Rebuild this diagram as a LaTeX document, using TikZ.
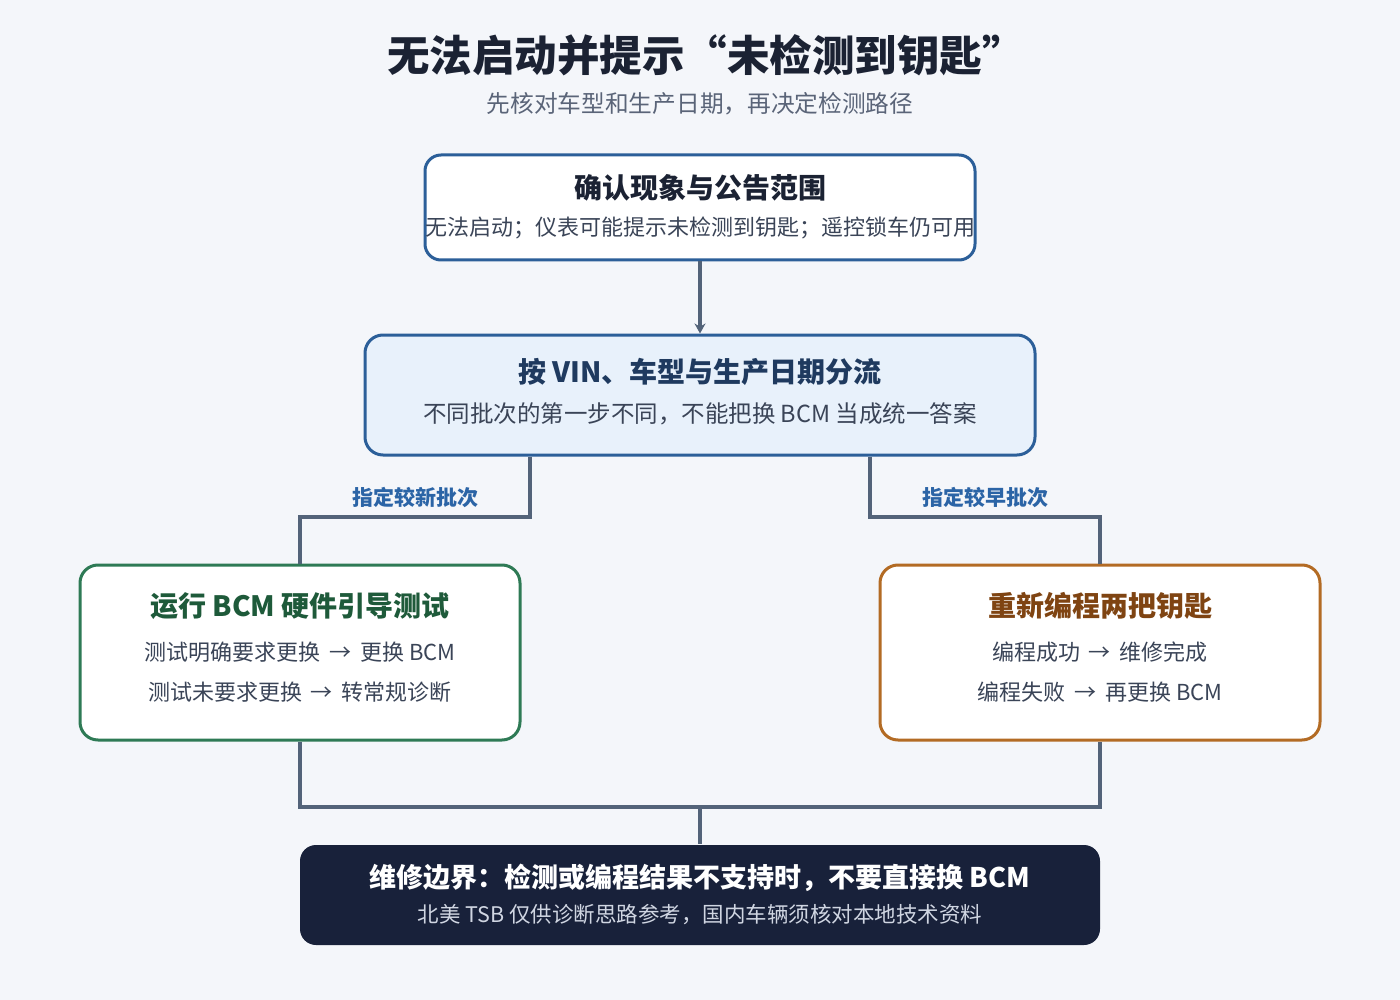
\documentclass[tikz,border=0pt]{standalone}
\usepackage{fontspec}
\setmainfont{Noto Sans CJK SC}
\usetikzlibrary{arrows.meta,calc}
\definecolor{bgc}{HTML}{F4F6FA}
\definecolor{bluebd}{HTML}{2C5F99}
\definecolor{bluefill}{HTML}{E8F1FB}
\definecolor{darktxt}{HTML}{1B2233}
\definecolor{navytxt}{HTML}{1F3A5F}
\definecolor{subtxt}{HTML}{5A6478}
\definecolor{bodytxt}{HTML}{3A4457}
\definecolor{conncol}{HTML}{536379}
\definecolor{lblcol}{HTML}{2B64A6}
\definecolor{greenbd}{HTML}{2E7A55}
\definecolor{greentxt}{HTML}{1E5A3A}
\definecolor{orangebd}{HTML}{B36B24}
\definecolor{browntxt}{HTML}{7F4412}
\definecolor{darkbox}{HTML}{18213A}
\definecolor{lighttxt}{HTML}{D0D6E2}
\newcommand\myarr{\hspace{4pt}→\hspace{4pt}}
\tikzset{
  box/.style={draw, rectangle, rounded corners=16pt, line width=3pt, fill=white, inner sep=0pt},
  conn/.style={draw=conncol, line width=4pt},
  ttl/.style={font=\fontsize{28}{32}\selectfont\bfseries, inner sep=0pt},
  body/.style={font=\fontsize{22}{26}\selectfont, text=bodytxt, inner sep=0pt},
  lbl/.style={font=\fontsize{21}{24}\selectfont\bfseries, text=lblcol, inner sep=0pt},
}
\begin{document}
\begin{tikzpicture}[x=1pt,y=-1pt]
\fill[bgc] (0,0) rectangle (1400,1000);
\useasboundingbox (0,0) rectangle (1400,1000);

\node[font=\fontsize{42.5}{48}\selectfont\bfseries, text=darktxt, inner sep=0pt] (title) at (706,55) {无法启动并提示“未检测到钥匙”};
\node[font=\fontsize{23.7}{28}\selectfont, text=subtxt, inner sep=0pt] (subtitle) at (700,104) {先核对车型和生产日期，再决定检测路径};

% boxes
\node[box, draw=bluebd, minimum width=550pt, minimum height=105pt] (b1) at (700,207.5) {};
\node[box, draw=bluebd, fill=bluefill, minimum width=670pt, minimum height=120pt, rounded corners=18pt] (b2) at (700,395) {};
\node[box, draw=greenbd, minimum width=440pt, minimum height=175pt, rounded corners=18pt] (b3) at (300,652.5) {};
\node[box, draw=orangebd, minimum width=440pt, minimum height=175pt, rounded corners=18pt] (b4) at (1100,652.5) {};
\node[box, draw=none, fill=darkbox, minimum width=800pt, minimum height=100pt] (b5) at (700,895) {};

% texts
\node[ttl, text=darktxt] (t1) at (700,188) {确认现象与公告范围};
\node[body] (s1) at (700,228) {无法启动；仪表可能提示未检测到钥匙；遥控锁车仍可用};

\node[ttl, text=navytxt] (t2) at (700,372) {按 VIN、车型与生产日期分流};
\node[body, font=\fontsize{23.5}{27}\selectfont] (s2) at (700,414) {不同批次的第一步不同，不能把换 BCM 当成统一答案};

\node[ttl, text=greentxt] (t3) at (300,606) {运行 BCM 硬件引导测试};
\node[body] (s3a) at (300,652) {测试明确要求更换 \myarr{} 更换 BCM};
\node[body] (s3b) at (300,692) {测试未要求更换 \myarr{} 转常规诊断};

\node[ttl, text=browntxt] (t4) at (1100,606) {重新编程两把钥匙};
\node[body] (s4a) at (1100,652) {编程成功 \myarr{} 维修完成};
\node[body] (s4b) at (1100,692) {编程失败 \myarr{} 再更换 BCM};

\node[ttl, text=white, font=\fontsize{27}{31}\selectfont\bfseries] (t5) at (700,878) {维修边界：检测或编程结果不支持时，不要直接换 BCM};
\node[body, text=lighttxt, font=\fontsize{21.5}{25}\selectfont] (s5) at (700,915) {北美 TSB 仅供诊断思路参考，国内车辆须核对本地技术资料};

% connectors
\draw[conn, -{Stealth[length=10pt,width=11pt]}] (b1.south) -- (b2.north);
\draw[conn] ([xshift=-170pt]b2.south) -- ++(0,60) -| (b3.north);
\draw[conn] ([xshift=170pt]b2.south) -- ++(0,60) -| (b4.north);
\coordinate (m) at (700,805);
\draw[conn] (b3.south) -- ++(0,65) -| (b4.south);
\draw[conn] (m) -- (b5.north);

\node[lbl] (l1) at (415,497) {指定较新批次};
\node[lbl] (l2) at (985,497) {指定较早批次};
\end{tikzpicture}
\end{document}
